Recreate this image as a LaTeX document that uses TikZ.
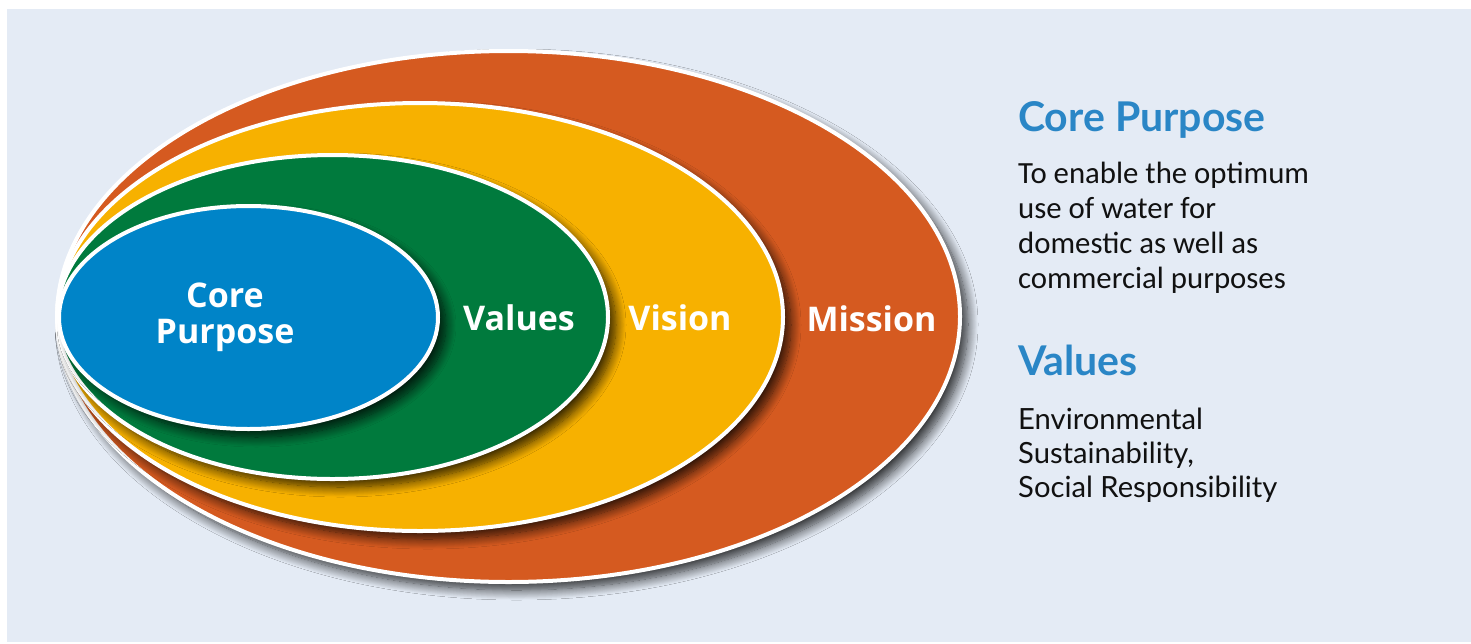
\documentclass[tikz,border=0pt]{standalone}
\usepackage{fontspec}
\usetikzlibrary{shapes.geometric,shadows.blur}
\newfontfamily\labelfont{Open Sans}
\newfontfamily\headfont{Lato}
\newfontfamily\bodyfont{Carlito}
\definecolor{bgc}{HTML}{E4EBF5}
\definecolor{orangec}{HTML}{D55A20}
\definecolor{yellowc}{HTML}{F7B100}
\definecolor{greenc}{HTML}{007A3D}
\definecolor{bluec}{HTML}{0084C8}
\definecolor{headc}{HTML}{2A86C6}
\definecolor{bodyc}{HTML}{111111}
\tikzset{
  ring/.style={ellipse, draw=white, line width=4pt, inner sep=0pt, outer sep=0pt,
    blur shadow={shadow xshift=8pt, shadow yshift=-8pt, shadow blur radius=10pt, shadow blur steps=14, shadow opacity=80}},
  ringlabel/.style={text=white, font=\labelfont\bfseries\fontsize{34}{40}\selectfont, anchor=base, inner sep=0pt},
  headtext/.style={text=headc, font=\headfont\bfseries\fontsize{41}{46}\selectfont, anchor=base west, inner sep=0pt},
  cptext/.style={text=bodyc, font=\bodyfont\fontsize{30.8}{35}\selectfont, anchor=base west, inner sep=0pt},
  valtext/.style={text=bodyc, font=\headfont\fontsize{29.2}{34}\selectfont, anchor=base west, inner sep=0pt}
}
\begin{document}
\begin{tikzpicture}[x=1pt,y=-1pt]
\useasboundingbox (0,0) rectangle (1471,643);
\fill[white] (0,0) rectangle (1471,643);
\fill[bgc] (7,9) rectangle (1471,642);
% ellipses
\node[ring, fill=orangec, minimum width=903pt, minimum height=531pt] (mission) at (508.5,316.5) {};
\node[ring, fill=yellowc, minimum width=726pt, minimum height=428pt] (vision) at (420,317) {};
\node[ring, fill=greenc, minimum width=551pt, minimum height=324pt] (values) at (332.5,317) {};
\node[ring, fill=bluec, minimum width=379pt, minimum height=223pt] (core) at (248.5,317.5) {};
% ring labels
\node[ringlabel] (lcore1) at (225,307) {Core};
\node[ringlabel] (lcore2) at (225,343) {Purpose};
\node[ringlabel] (lvalues) at (519,330) {Values};
\node[ringlabel] (lvision) at (680,330) {Vision};
\node[ringlabel] (lmission) at (871.5,331) {Mission};
% right-hand text
\node[headtext] (h1) at (1018,131) {Core Purpose};
\node[cptext] (c1) at (1018,183) {To enable the optimum};
\node[cptext] (c2) at (1018,218) {use of water for};
\node[cptext] (c3) at (1018,253) {domestic as well as};
\node[cptext] (c4) at (1018,288) {commercial purposes};
\node[headtext] (h2) at (1018,375) {Values};
\node[valtext] (v1) at (1018,429) {Environmental};
\node[valtext] (v2) at (1018,463) {Sustainability,};
\node[valtext] (v3) at (1018,497) {Social Responsibility};
\end{tikzpicture}
\end{document}
